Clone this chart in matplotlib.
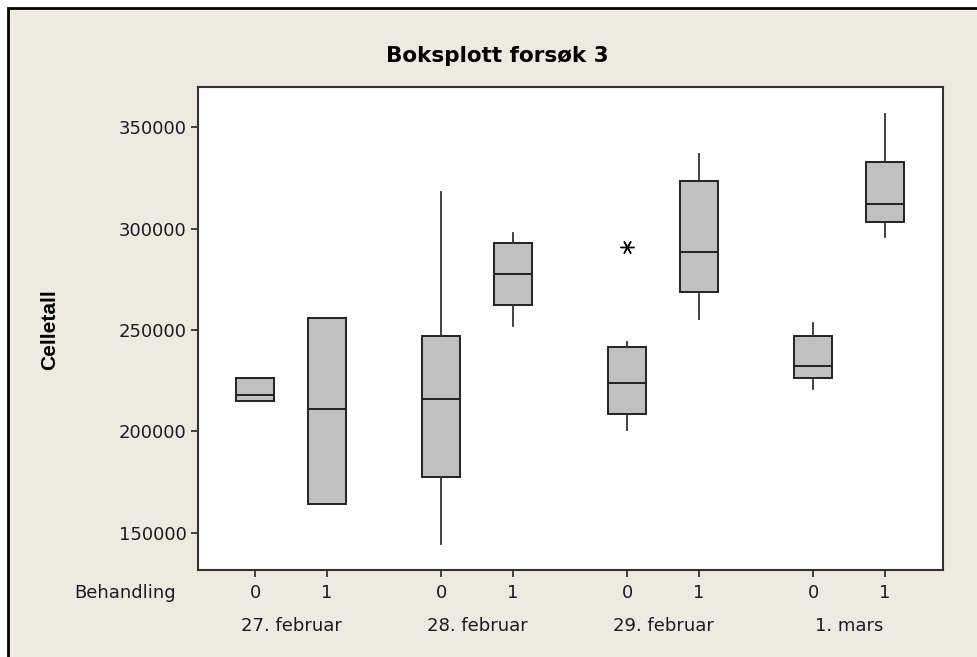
import matplotlib.pyplot as plt
from matplotlib.patches import Rectangle

# Minitab boxplot: cell counts per day and treatment
days = ["27. februar", "28. februar", "29. februar", "1. mars"]
treatments = ["0", "1"]

q1 = [215100, 164200, 177600, 262300, 208600, 268900, 226200, 303400]
med = [217900, 211000, 216100, 277500, 223700, 288300, 232100, 312000]
q3 = [226300, 256000, 247200, 292800, 241500, 323700, 247200, 332900]
whislo = [215100, 164200, 144400, 252000, 200700, 255300, 220800, 295700]
whishi = [226300, 256000, 318100, 298000, 244200, 336700, 253300, 356600]
fliers = [[], [], [], [], [291100], [], [], []]

W, H = 978, 657
bg = "#eeeae0"
fig = plt.figure(figsize=(W / 100, H / 100), dpi=100, facecolor="white")
fig.patches.append(Rectangle((8 / W, -0.1), 1.2, 1.1 - 8 / H, transform=fig.transFigure,
                             facecolor=bg, edgecolor="black", linewidth=2, zorder=-10))

ax = fig.add_axes([197.5 / W, 1 - 570 / H, (943.3 - 197.5) / W, (570 - 86.7) / H])
ax.set_facecolor("white")

# positions: pairs 1 unit apart, groups 2.583 units apart
gap = 186 / 72
pos = []
for g in range(len(days)):
    for t in range(len(treatments)):
        pos.append(g * gap + t)

stats = []
for i in range(len(q1)):
    stats.append(dict(q1=q1[i], med=med[i], q3=q3[i], whislo=whislo[i],
                      whishi=whishi[i], fliers=fliers[i]))

ax.bxp(stats, positions=pos, widths=0.53, patch_artist=True, showcaps=False,
       boxprops=dict(facecolor="#c0c0c0", edgecolor="#222222", linewidth=1.4),
       medianprops=dict(color="#222222", linewidth=1.4),
       whiskerprops=dict(color="#333333", linewidth=1.3),
       flierprops=dict(marker=(6, 2, 90), markersize=10, markeredgecolor="black",
                       markeredgewidth=1.0, linestyle="none"))

ax.set_xlim(-0.80, 9.56)
ax.set_ylim(131600, 370000)
ax.set_yticks([150000, 200000, 250000, 300000, 350000])
ax.set_yticklabels(["150000", "200000", "250000", "300000", "350000"])
ax.set_xticks(pos)
ax.set_xticklabels(treatments * len(days))
for s in ax.spines.values():
    s.set_color("#333333")
    s.set_linewidth(1.5)
ax.tick_params(axis="both", colors="#333333", labelcolor="#1a1a2a", labelsize=13,
               length=5, width=1.3)
ax.tick_params(axis="x", pad=5)
ax.tick_params(axis="y", pad=3)

# day labels under each pair
for g, d in enumerate(days):
    ax.text(g * gap + 0.5, -0.115, d, transform=ax.get_xaxis_transform(),
            ha="center", va="center", fontsize=13, color="#1a1a2a")
ax.text(-0.029, -0.048, "Behandling", transform=ax.transAxes, ha="right", va="center",
        fontsize=13, color="#1a1a2a")

fig.text(50 / W, 1 - 330 / H, "Celletall", rotation=90, ha="center", va="center",
         fontsize=15, fontweight="bold", family="Liberation Sans")
fig.text(497 / W, 1 - 56 / H, "Boksplott forsøk 3", ha="center", va="center",
         fontsize=15.5, fontweight="bold")

fig.savefig("out.png", dpi=100, facecolor=fig.get_facecolor())
